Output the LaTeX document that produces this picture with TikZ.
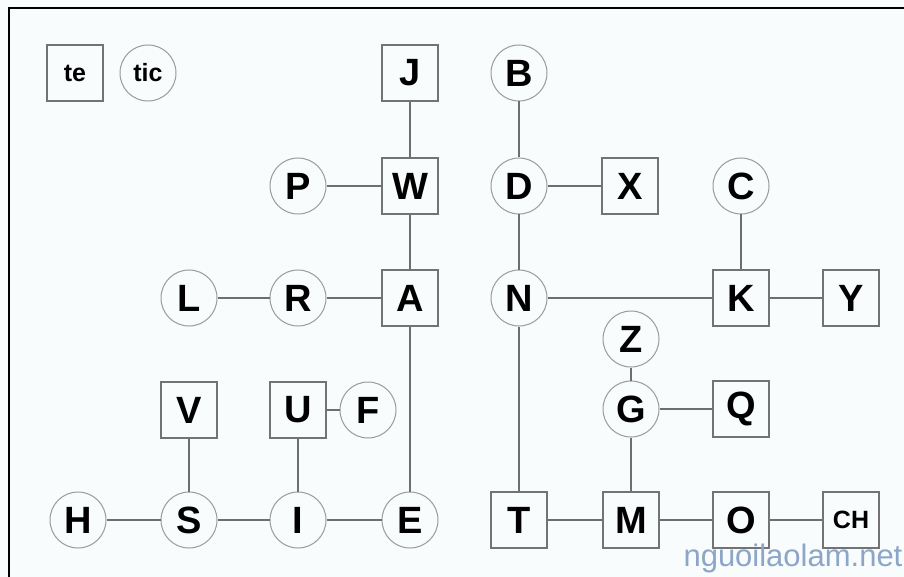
\documentclass[tikz,border=0pt]{standalone}
\usepackage{fontspec}
\setmainfont{Liberation Sans}
\definecolor{bgcol}{RGB}{248,252,252}
\definecolor{boxgray}{RGB}{115,115,115}
\definecolor{circgray}{RGB}{155,155,155}
\definecolor{linegray}{RGB}{110,110,110}
\definecolor{wmcol}{RGB}{140,165,200}
\begin{document}
\begin{tikzpicture}[x=1pt,y=-1pt,
  every node/.style={font=\fontsize{38}{38}\selectfont\bfseries, text=black, inner sep=0pt, line width=1.2pt},
  bx/.style={draw=boxgray, rectangle, minimum width=56pt, minimum height=56pt},
  cr/.style={draw=circgray, circle, minimum size=56pt, line width=1pt},
  sm/.style={font=\fontsize{25}{25}\selectfont\bfseries},
  ln/.style={draw=linegray, line width=1.3pt}]
\fill[bgcol] (0,0) rectangle (904,577);
\useasboundingbox (0,0) rectangle (904,577);
\draw[line width=2pt] (9,577) |- (904,8);
% row 1
\node[bx,sm] (te) at (75,73) {te};
\node[cr,sm] (tic) at (148,73) {tic};
\node[bx] (J) at (410,73) {J};
\node[cr] (B) at (519,73) {B};
% row 2
\node[cr] (P) at (298,186) {P};
\node[bx] (W) at (410,186) {W};
\node[cr] (D) at (519,186) {D};
\node[bx] (X) at (630,186) {X};
\node[cr] (C) at (741,186) {C};
% row 3
\node[cr] (L) at (189,298) {L};
\node[cr] (R) at (298,298) {R};
\node[bx] (A) at (410,298) {A};
\node[cr] (N) at (519,298) {N};
\node[bx] (K) at (741,298) {K};
\node[bx] (Y) at (851,298) {Y};
% row 3.5
\node[cr] (Z) at (631,339) {Z};
% row 4
\node[bx] (V) at (189,410) {V};
\node[bx] (U) at (298,410) {U};
\node[cr] (F) at (368,410) {F};
\node[cr] (G) at (631,409) {G};
\node[bx] (Q) at (741,409) {Q};
% row 5
\node[cr] (H) at (78,520) {H};
\node[cr] (S) at (189,520) {S};
\node[cr] (I) at (298,520) {I};
\node[cr] (E) at (410,520) {E};
\node[bx] (T) at (519,520) {T};
\node[bx] (M) at (631,520) {M};
\node[bx] (O) at (741,520) {O};
\node[bx,sm] (CH) at (851,520) {CH};
% edges
\draw[ln] (J) -- (W);
\draw[ln] (P) -- (W);
\draw[ln] (W) -- (A);
\draw[ln] (L) -- (R);
\draw[ln] (R) -- (A);
\draw[ln] (A) -- (E);
\draw[ln] (B) -- (D);
\draw[ln] (D) -- (X);
\draw[ln] (D) -- (N);
\draw[ln] (N) -- (K);
\draw[ln] (C) -- (K);
\draw[ln] (K) -- (Y);
\draw[ln] (N) -- (T);
\draw[ln] (Z) -- (G);
\draw[ln] (G) -- (Q);
\draw[ln] (G) -- (M);
\draw[ln] (T) -- (M);
\draw[ln] (M) -- (O);
\draw[ln] (O) -- (CH);
\draw[ln] (V) -- (S);
\draw[ln] (H) -- (S);
\draw[ln] (S) -- (I);
\draw[ln] (U) -- (I);
\draw[ln] (U) -- (F);
\draw[ln] (I) -- (E);
% watermark
\node[font=\fontsize{31}{31}\selectfont, text=wmcol, anchor=base east] (wm) at (903,566) {nguoilaolam.net};
\end{tikzpicture}
\end{document}
